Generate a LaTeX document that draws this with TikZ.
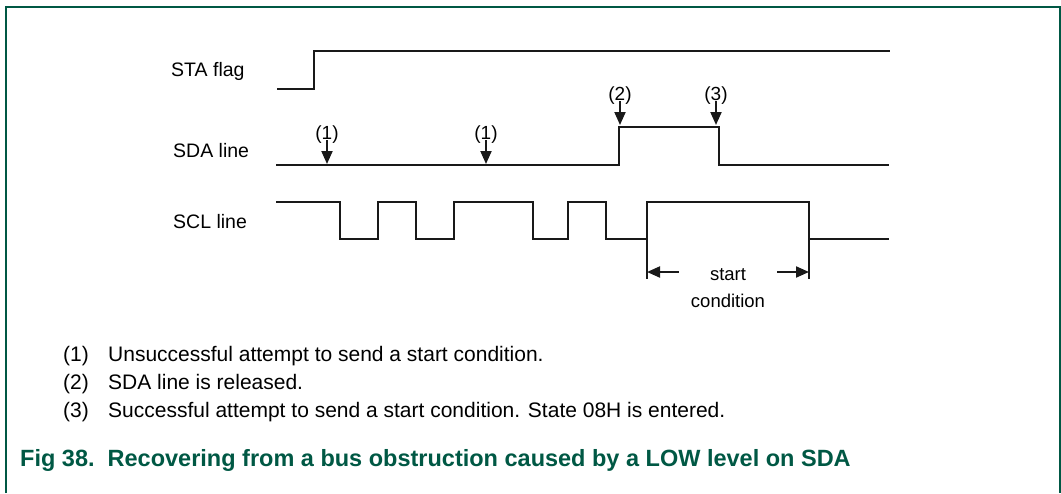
\documentclass[tikz,border=0pt]{standalone}
\usepackage{fontspec}
\setmainfont{Liberation Sans}
\usepackage{tikz}
\usetikzlibrary{positioning,arrows.meta,calc}

\definecolor{figgreen}{RGB}{0,88,68}

\begin{document}
\begin{tikzpicture}[
  x=1pt,y=-1pt,
  wave/.style={line width=2.2pt,black!90,line join=miter},
  marker/.style={-{Stealth[length=13pt,width=11pt,inset=0pt]},line width=2pt,black!90},
  tick/.style={line width=1.8pt,black!90},
  sig/.style={font=\fontsize{19.5}{22}\selectfont,anchor=west,inner sep=0pt},
  num/.style={font=\fontsize{19}{21}\selectfont,inner sep=0pt},
  note/.style={font=\fontsize{21}{24}\selectfont,anchor=base west,inner sep=0pt},
  caption/.style={font=\fontsize{23.5}{26}\selectfont\bfseries,text=figgreen,anchor=base west,inner sep=0pt},
  frame/.style={line width=1.5pt,figgreen},
]
\useasboundingbox (0,0) rectangle (1061,493);

% === frame ===
\draw[frame] (6,493) -- (6,7) -- (1060,7) -- (1060,493);

% === signal names ===
\node[sig] (sta) at (171,71) {STA flag};
\node[sig] (sda) at (173,151) {SDA line};
\node[sig] (scl) at (173,222) {SCL line};

% === waveforms ===
\draw[wave] (277,89) -- (314,89) -- (314,51) -- (890,51);
\draw[wave] (276,165) -- (619,165) -- (619,127) -- (719,127) -- (719,165) -- (889,165);
\draw[wave] (276,202) -| (340,239) -| (378,202) -| (416,239) -| (454,202)
  -| (533,239) -| (568,202) -| (606,239) -| (647,202) coordinate (sclup)
  -| (809,239) coordinate (scldown) -- (889,239);

% === event markers ===
\node[num] (m1a) at (327,135) {(1)};
\node[num] (m1b) at (486,135) {(1)};
\node[num] (m2) at (620,96) {(2)};
\node[num] (m3) at (716,96) {(3)};
\coordinate (t1a) at (327,164);
\coordinate (t1b) at (486,164);
\coordinate (t2) at (620,125);
\coordinate (t3) at (716,125);
\draw[marker] ([yshift=-5pt]m1a.center) -- (t1a);
\draw[marker] ([yshift=-5pt]m1b.center) -- (t1b);
\draw[marker] ([yshift=-5pt]m2.center) -- (t2);
\draw[marker] ([yshift=-5pt]m3.center) -- (t3);

% === start condition ===
\coordinate (scL) at (647,279);
\coordinate (scR) at (809,279);
\draw[tick] (647,239) -- (scL);
\draw[tick] (scldown) -- (scR);
\node[font=\fontsize{18.5}{27}\selectfont,align=center,inner ysep=0pt,inner xsep=12pt] (sc) at (728,288) {start\\condition};
\draw[marker] (sc.west |- 0,272) -- (647,272);
\draw[marker] (sc.east |- 0,272) -- (809,272);

% === notes ===
\node[note] (n1num) at (63,361) {(1)};
\node[note] (n1) at (108,361) {Unsuccessful attempt to send a start condition.};
\node[note] (n2num) at (63,389) {(2)};
\node[note] (n2) at (108,389) {SDA line is released.};
\node[note] (n3num) at (63,417) {(3)};
\node[note] (n3) at (108,417) {Successful attempt to send a start condition. State 08H is entered.};

% === caption ===
\node[caption] (cap) at (20,466) {Fig 38.\ \ Recovering from a bus obstruction caused by a LOW level on SDA};

\end{tikzpicture}
\end{document}
